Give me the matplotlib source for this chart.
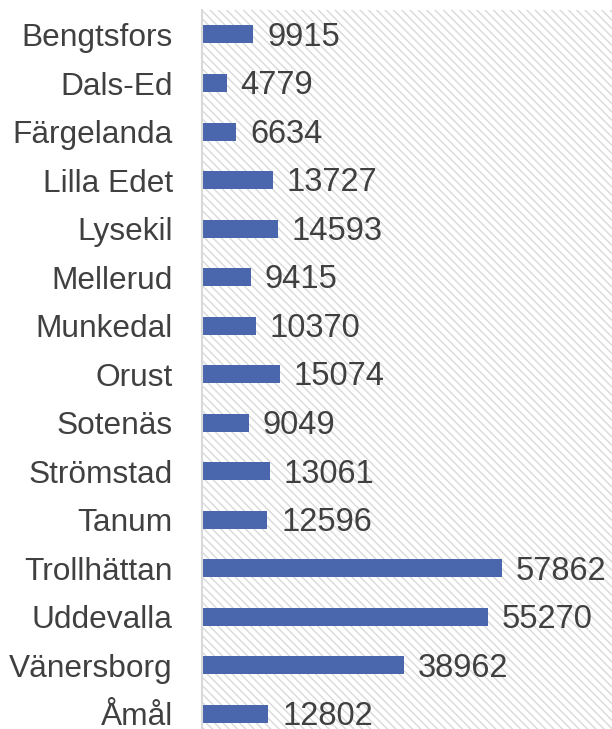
import matplotlib.pyplot as plt
from matplotlib.patches import Rectangle

plt.rcParams['font.family'] = ['Liberation Sans', 'DejaVu Sans']
plt.rcParams['hatch.color'] = '#d9d9d9'
plt.rcParams['hatch.linewidth'] = 1.0

kommuner = ['Bengtsfors', 'Dals-Ed', 'Färgelanda', 'Lilla Edet', 'Lysekil', 'Mellerud',
            'Munkedal', 'Orust', 'Sotenäs', 'Strömstad', 'Tanum', 'Trollhättan',
            'Uddevalla', 'Vänersborg', 'Åmål']
invanare = [9915, 4779, 6634, 13727, 14593, 9415, 10370, 15074, 9049, 13061, 12596,
            57862, 55270, 38962, 12802]

fig = plt.figure(figsize=(6.12, 7.29), dpi=100)
ax = fig.add_axes([0.330, 0.0, 0.670, 0.986])

# randig bakgrund
ax.add_patch(Rectangle((0, 0), 1, 1, transform=ax.transAxes, facecolor='white',
                       edgecolor='#d9d9d9', hatch='\\\\\\\\', linewidth=0, zorder=0))

y = list(range(len(kommuner)))
bars = ax.barh(y, invanare, height=0.37, color='#4a66ac', zorder=2)

for b, v in zip(bars, invanare):
    ax.annotate(str(v), (b.get_width(), b.get_y() + b.get_height() / 2),
                xytext=(10, -2), textcoords='offset points', va='center', ha='left',
                fontsize=23.5, color='#404040', zorder=3)

ax.set_xlim(0, 79200)
ax.set_ylim(14.31, -0.5)
ax.set_yticks(y)
ax.set_yticklabels(kommuner, fontsize=22.8, color='#404040')
ax.set_xticks([])
ax.tick_params(axis='y', length=0, pad=21)
for s in ['top', 'right', 'bottom']:
    ax.spines[s].set_visible(False)
ax.spines['left'].set_color('#d9d9d9')
ax.spines['left'].set_linewidth(1.5)
ax.spines['left'].set_zorder(3)

plt.savefig('out.png', dpi=100)
